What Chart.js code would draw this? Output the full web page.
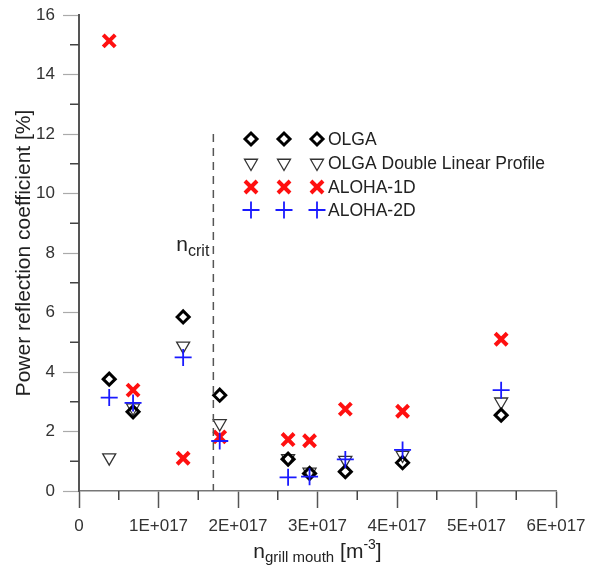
<!DOCTYPE html>
<html>
<head>
<meta charset="utf-8">
<script src="https://cdn.jsdelivr.net/npm/chart.js@4/dist/chart.umd.min.js"></script>
<style>
  body { margin: 0; background: #fff; }
  #wrap { width: 589px; height: 569px; }
</style>
</head>
<body>
<div id="wrap"><canvas id="myChart" width="589" height="569"></canvas></div>
<script>
// grill mouth densities [m^-3]
const density = [0.38e17, 0.68e17, 1.31e17, 1.77e17, 2.63e17, 2.90e17, 3.35e17, 4.07e17, 5.31e17];
// power reflection coefficient [%]
const olga = [3.76, 2.66, 5.85, 3.22, 1.07, 0.59, 0.65, 0.95, 2.55];
const olgaDouble = [1.12, 2.8, 4.88, 2.27, 1.1, 0.64, 1.04, 1.21, 3.0];
const aloha1d = [15.13, 3.39, 1.10, 1.82, 1.73, 1.69, 2.75, 2.68, 5.10];
const aloha2d = [3.14, 2.96, 4.49, 1.68, 0.46, 0.48, 1.06, 1.38, 3.39];

const xTicks = [0, 1e17, 2e17, 3e17, 4e17, 5e17, 6e17];
const xTickLabels = ['0', '1E+017', '2E+017', '3E+017', '4E+017', '5E+017', '6E+017'];
const yTicks = [0, 2, 4, 6, 8, 10, 12, 14, 16];

const nCrit = 1.69e17;   // critical density, dashed line
const nCritTop = 12;

const FONT = '"Liberation Sans", Arial, sans-serif';

function pts(ys) {
  return density.map(function(x, i) { return {x: x, y: ys[i]}; });
}

const series = [
  {label: 'OLGA', data: olga, style: 'rectRot', rot: 0, r: 6, bw: 3, color: '#000', order: 1},
  {label: 'OLGA Double Linear Profile', data: olgaDouble, style: 'triangle', rot: 180, r: 7.5, bw: 1.3, color: '#333', order: 2},
  {label: 'ALOHA-1D', data: aloha1d, style: 'crossRot', rot: 0, r: 8.5, bw: 4, color: '#ff1010', order: 3},
  {label: 'ALOHA-2D', data: aloha2d, style: 'cross', rot: 0, r: 8.5, bw: 1.8, color: '#1a1aff', order: 0}
];

const datasets = series.map(function(s) {
  return {
    label: s.label,
    data: pts(s.data),
    pointStyle: s.style,
    rotation: s.rot,
    pointRadius: s.r,
    pointHoverRadius: s.r,
    borderWidth: s.bw,
    pointBorderWidth: s.bw,
    borderColor: s.color,
    backgroundColor: 'rgba(0,0,0,0)',
    showLine: false,
    order: s.order
  };
});

function drawMarker(ctx, s, x, y) {
  ctx.save();
  ctx.strokeStyle = s.color;
  ctx.fillStyle = 'rgba(0,0,0,0)';
  ctx.lineWidth = s.bw;
  Chart.helpers.drawPoint(ctx, {pointStyle: s.style, rotation: s.rot, radius: s.r, borderWidth: s.bw}, x, y);
  ctx.restore();
}

const extras = {
  id: 'extras',
  afterDraw: function(chart) {
    const ctx = chart.ctx;
    const xs = chart.scales.x;
    const ys = chart.scales.y;
    const area = chart.chartArea;

    // minor ticks
    ctx.save();
    ctx.strokeStyle = '#444';
    ctx.lineWidth = 1.5;
    for (let i = 0; i < xTicks.length - 1; i++) {
      const px = xs.getPixelForValue((xTicks[i] + xTicks[i + 1]) / 2);
      ctx.beginPath();
      ctx.moveTo(px, area.bottom);
      ctx.lineTo(px, area.bottom + 9);
      ctx.stroke();
    }
    for (let i = 0; i < yTicks.length - 1; i++) {
      const py = ys.getPixelForValue((yTicks[i] + yTicks[i + 1]) / 2);
      ctx.beginPath();
      ctx.moveTo(area.left, py);
      ctx.lineTo(area.left - 9, py);
      ctx.stroke();
    }
    ctx.restore();

    // n_crit dashed line
    ctx.save();
    ctx.strokeStyle = '#555';
    ctx.lineWidth = 1.5;
    ctx.setLineDash([8, 6]);
    const cx = xs.getPixelForValue(nCrit);
    ctx.beginPath();
    ctx.moveTo(cx, ys.getPixelForValue(nCritTop));
    ctx.lineTo(cx, ys.getPixelForValue(0));
    ctx.stroke();
    ctx.restore();

    ctx.save();
    ctx.fillStyle = '#222';
    ctx.textBaseline = 'alphabetic';
    ctx.font = '21px ' + FONT;
    const nW = ctx.measureText('n').width;
    ctx.font = '16px ' + FONT;
    const cW = ctx.measureText('crit').width;
    const lx = cx - 4 - nW - cW;
    ctx.font = '21px ' + FONT;
    ctx.fillText('n', lx, 251);
    ctx.font = '16px ' + FONT;
    ctx.fillText('crit', lx + nW, 256);
    ctx.restore();

    // legend, three markers per row
    const rows = [139, 163, 187, 210];
    const mx = [251, 284, 317];
    ctx.save();
    series.forEach(function(s, i) {
      mx.forEach(function(x) { drawMarker(ctx, s, x, rows[i]); });
      ctx.fillStyle = '#222';
      ctx.font = '17.5px ' + FONT;
      ctx.textBaseline = 'middle';
      ctx.textAlign = 'left';
      ctx.fillText(s.label, 328, rows[i] + 1);
    });
    ctx.restore();

    // axis titles
    ctx.save();
    ctx.fillStyle = '#222';
    ctx.translate(30, (area.top + area.bottom) / 2);
    ctx.rotate(-Math.PI / 2);
    ctx.textAlign = 'center';
    ctx.textBaseline = 'alphabetic';
    ctx.font = '21px ' + FONT;
    ctx.fillText('Power reflection coefficient [%]', 0, 0);
    ctx.restore();

    ctx.save();
    ctx.fillStyle = '#222';
    ctx.textBaseline = 'alphabetic';
    const parts = [
      {t: 'n', f: 21, dy: 0},
      {t: 'grill mouth', f: 15, dy: 4},
      {t: ' [m', f: 21, dy: 0},
      {t: '-3', f: 14, dy: -9},
      {t: ']', f: 21, dy: 0}
    ];
    let total = 0;
    parts.forEach(function(p) {
      ctx.font = p.f + 'px ' + FONT;
      p.w = ctx.measureText(p.t).width;
      total += p.w;
    });
    let tx = (area.left + area.right) / 2 - total / 2;
    parts.forEach(function(p) {
      ctx.font = p.f + 'px ' + FONT;
      ctx.fillText(p.t, tx, 558 + p.dy);
      tx += p.w;
    });
    ctx.restore();
  }
};

const config = {
  type: 'scatter',
  data: {datasets: datasets},
  options: {
    responsive: false,
    animation: false,
    layout: {padding: {top: 15, right: 33, left: 0, bottom: 0}},
    plugins: {legend: {display: false}, tooltip: {enabled: false}},
    scales: {
      x: {
        type: 'linear',
        min: 0,
        max: 6e17,
        afterBuildTicks: function(s) { s.ticks = xTicks.map(function(v) { return {value: v}; }); },
        afterFit: function(s) { s.height = 78; s.paddingLeft = 0; s.paddingRight = 0; },
        grid: {drawOnChartArea: false, tickLength: 17, tickColor: '#555', tickWidth: 1.5},
        border: {color: '#777', width: 1.5},
        ticks: {
          padding: 8,
          maxRotation: 0,
          color: '#333',
          font: {family: FONT, size: 17},
          callback: function(v) { const i = xTicks.indexOf(v); return i >= 0 ? xTickLabels[i] : ''; }
        }
      },
      y: {
        min: 0,
        max: 16,
        afterBuildTicks: function(s) { s.ticks = yTicks.map(function(v) { return {value: v}; }); },
        afterFit: function(s) { s.width = 79; s.paddingTop = 0; s.paddingBottom = 0; },
        grid: {drawOnChartArea: false, tickLength: 16, tickColor: '#aaa', tickWidth: 1.2},
        border: {color: '#555', width: 2},
        ticks: {
          padding: 8,
          color: '#333',
          font: {family: FONT, size: 17},
          callback: function(v) { return String(v); }
        }
      }
    }
  },
  plugins: [extras]
};

const myChart = new Chart(document.getElementById('myChart'), config);
</script>
</body>
</html>
